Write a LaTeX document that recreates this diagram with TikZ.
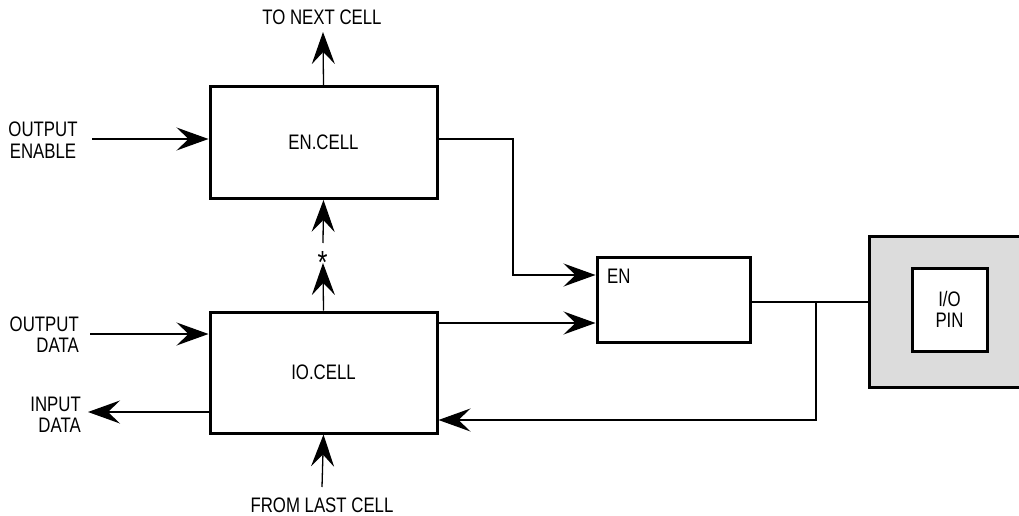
\documentclass[tikz,border=0pt]{standalone}
\usepackage{fontspec}
\setmainfont[FakeStretch=0.8]{Liberation Sans}
\usetikzlibrary{arrows.meta}
\definecolor{pingray}{HTML}{DCDCDC}
\begin{document}
\begin{tikzpicture}[x=1pt,y=-1pt,
  every node/.style={font=\fontsize{21}{21.5}\selectfont, inner sep=0pt},
  box/.style={draw, line width=3pt, fill=white},
  conn/.style={line width=1.3pt},
  arr/.style={conn, -{Stealth[length=32pt,width=23pt,inset=12pt]}},
  lbl/.style={align=center}
]
\useasboundingbox (0,0) rectangle (1019,516);
% boxes
\node[box, minimum width=227, minimum height=111.5] (encell) at (323.5,142.7) {EN.CELL};
\node[box, minimum width=227, minimum height=121] (iocell) at (323.5,372.5) {IO.CELL};
\node[box, minimum width=153, minimum height=85.5] (en) at (673.5,300) {};
\node[anchor=north west] (enlbl) at (607,269) {EN};
\node[box, fill=pingray, minimum width=200, minimum height=151] (pin) at (969,311.5) {};
\node[box, minimum width=75, minimum height=83, align=center] (inner) at (949.5,309.5) {I/O\\PIN};
% labels
\node[lbl] (tonext) at (322,17) {TO NEXT CELL};
\node[lbl] (oelbl) at (43,140) {OUTPUT\\ENABLE};
\node[align=right, anchor=east] (odlbl) at (79,334.5) {OUTPUT\\DATA};
\node[align=right, anchor=east] (idlbl) at (81,415) {INPUT\\DATA};
\node[lbl] (fromlast) at (322,505) {FROM LAST CELL};
\node[anchor=north, font=\fontsize{32}{32}\selectfont] (star) at (322.5,251) {*};
% coordinates
\coordinate (t1) at (323,32);
\coordinate (oe1) at (92,139);
\coordinate (s1) at (323,243);
\coordinate (s2) at (323,263);
\coordinate (j1) at (513,139);
\coordinate (od1) at (90,334);
\coordinate (id1) at (88,412);
\coordinate (fl1) at (322,487);
\coordinate (j2) at (816,302);
% connectors
\draw[arr] (encell.north) -- (t1);
\draw[arr] (oe1) -- (encell.west |- oe1);
\draw[arr] (s1) -- (encell.south);
\draw[arr] (iocell.north) -- (s2);
\draw[arr] (encell.east |- j1) -- (j1) |- (en.west |- 0,275);
\draw[arr] (iocell.east |- 0,323) -- (en.west |- 0,323);
\draw[conn] (en.east |- j2) -- (pin.west |- j2);
\draw[arr] (j2) |- (iocell.east |- 0,420);
\draw[arr] (od1) -- (iocell.west |- od1);
\draw[arr] (iocell.west |- id1) -- (id1);
\draw[arr] (fl1) -- (iocell.south);
\end{tikzpicture}
\end{document}
